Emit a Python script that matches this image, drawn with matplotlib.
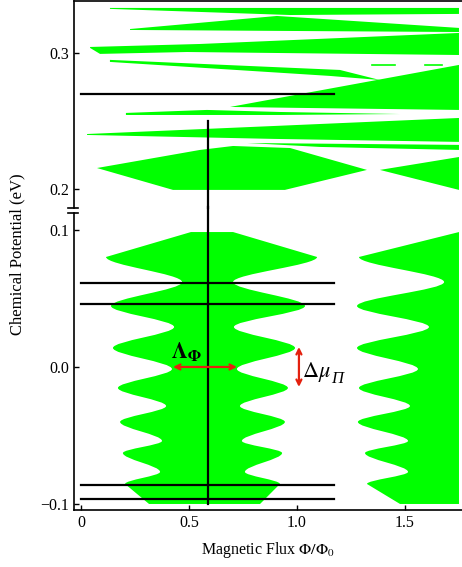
import matplotlib
matplotlib.use("Agg")
import matplotlib.pyplot as plt
from matplotlib.path import Path
from matplotlib.patches import PathPatch

plt.rcParams["font.family"] = ["Liberation Serif", "DejaVu Serif"]
plt.rcParams["mathtext.fontset"] = "stix"

GREEN = "#00ff00"

# ---- lower panel: oscillating bands (edge extrema) ----
band_y = [0.0985, 0.0803, 0.0620, 0.0445, 0.0292, 0.0139, -0.0015, -0.0153,
          -0.0285, -0.0401, -0.0540, -0.0628, -0.0766, -0.0854, -0.1000]
band1_left = [0.509, 0.116, 0.468, 0.139, 0.431, 0.148, 0.421, 0.171,
              0.394, 0.181, 0.375, 0.194, 0.366, 0.204, 0.315]
band1_right = [0.704, 1.093, 0.704, 1.037, 0.708, 0.991, 0.722, 0.958,
               0.736, 0.944, 0.745, 0.931, 0.759, 0.921, 0.829]
band2_left = [1.750, 1.287, 1.681, 1.278, 1.611, 1.278, 1.560, 1.287,
              1.523, 1.282, 1.514, 1.315, 1.514, 1.324, 1.477]
band2_right_x = 1.750

# ---- upper panel: slivers (polygon outlines) ----
s1_x = [0.134, 1.750, 1.750, 0.968, 0.134]
s1_y = [0.3331, 0.3331, 0.3287, 0.3279, 0.3324]
s2_x = [0.227, 0.907, 1.750, 1.750, 0.227]
s2_y = [0.3176, 0.3272, 0.3184, 0.3154, 0.3169]
s3_x = [0.042, 0.551, 1.750, 1.750, 0.491, 0.088, 0.042]
s3_y = [0.3044, 0.3066, 0.3147, 0.2985, 0.3007, 0.2993, 0.3037]
s4_x = [0.134, 1.199, 1.384, 1.153, 0.134]
s4_y = [0.2949, 0.2875, 0.2801, 0.2831, 0.2934]
s5_x = [0.690, 1.750, 1.750, 1.014]
s5_y = [0.2603, 0.2912, 0.2581, 0.2596]
s6_x = [0.208, 0.583, 0.921, 1.477, 0.921, 0.208]
s6_y = [0.2559, 0.2581, 0.2566, 0.2551, 0.2544, 0.2544]
s7_x = [0.028, 0.894, 1.750, 1.750, 0.894, 0.028]
s7_y = [0.2404, 0.2463, 0.2522, 0.2346, 0.2368, 0.2397]
s8_x = [0.769, 1.750, 1.750, 1.106]
s8_y = [0.2338, 0.2324, 0.2287, 0.2309]
lens1_x = [0.074, 0.551, 0.704, 0.968, 1.324, 0.944, 0.426]
lens1_y = [0.2154, 0.2287, 0.2316, 0.2301, 0.2140, 0.1993, 0.1993]
lens2_x = [1.384, 1.750, 1.750]
lens2_y = [0.2140, 0.2235, 0.1993]
dash_x = [(1.347, 1.454), (1.593, 1.671)]
dash_y = 0.2912

# ---- black guide lines and annotations ----
hline_top = [0.270]
hline_bot = [0.0615, 0.0458, -0.0864, -0.0961]
hline_x = (0.0, 1.17)
vline_x = 0.588
vline_y = (0.25, -0.1)
arrow_flux = ((0.426, 0.0), (0.722, 0.0))
arrow_mu = ((1.009, 0.0146), (1.009, -0.0146))


def edge_path(xs, ys):
    """Band edge: straight first/last segment, smooth waves in between."""
    verts, codes = [(xs[0], ys[0])], [Path.MOVETO]
    n = len(xs)
    for i in range(1, n):
        x0, y0, x1, y1 = xs[i - 1], ys[i - 1], xs[i], ys[i]
        if i == 1 or i == n - 1:
            verts.append((x1, y1)); codes.append(Path.LINETO)
        else:
            dy = y1 - y0
            verts += [(x0, y0 + dy / 3), (x1, y1 - dy / 3), (x1, y1)]
            codes += [Path.CURVE4] * 3
    return verts, codes


fig = plt.figure(figsize=(4.62, 5.67), dpi=100)
W, H = 462, 567
left = 74 / W
ax_top = fig.add_axes([left, 1 - 208 / H, 1 - left, 207 / H])
ax_bot = fig.add_axes([left, 1 - 510 / H, 1 - left, 297 / H])

xlim = (-0.0324, 1.764)
ax_top.set_xlim(*xlim)
ax_bot.set_xlim(*xlim)
ax_top.set_ylim(0.186, 0.3382)
ax_bot.set_ylim(-0.1044, 0.1124)

# upper panel fills
for xs, ys in [(s1_x, s1_y), (s2_x, s2_y), (s3_x, s3_y), (s4_x, s4_y),
               (s5_x, s5_y), (s6_x, s6_y), (s7_x, s7_y), (s8_x, s8_y),
               (lens1_x, lens1_y), (lens2_x, lens2_y)]:
    ax_top.fill(xs, ys, color=GREEN, lw=0)
for x0, x1 in dash_x:
    ax_top.plot([x0, x1], [dash_y, dash_y], color=GREEN, lw=1.2)

# lower panel band 1
lv, lc = edge_path(band1_left, band_y)
rv, rc = edge_path(band1_right[::-1], band_y[::-1])
rc[0] = Path.LINETO
verts = lv + rv + [lv[0]]
codes = lc + rc + [Path.CLOSEPOLY]
ax_bot.add_patch(PathPatch(Path(verts, codes), color=GREEN, lw=0))

# lower panel band 2 (runs off the right edge)
lv, lc = edge_path(band2_left, band_y)
verts = lv + [(band2_right_x, band_y[-1]), lv[0]]
codes = lc + [Path.LINETO, Path.CLOSEPOLY]
ax_bot.add_patch(PathPatch(Path(verts, codes), color=GREEN, lw=0))

# black lines
for y in hline_top:
    ax_top.plot(hline_x, [y, y], color="black", lw=1.6)
for y in hline_bot:
    ax_bot.plot(hline_x, [y, y], color="black", lw=1.6)
ax_top.plot([vline_x, vline_x], [vline_y[0], 0.186], color="black", lw=1.6,
            clip_on=False)
ax_bot.plot([vline_x, vline_x], [0.117, vline_y[1]], color="black", lw=1.6,
            clip_on=False)

# red arrows + labels
red = "#e4200e"
for (p0, p1) in [arrow_flux, arrow_mu]:
    ax_bot.annotate("", xy=p1, xytext=p0,
                    arrowprops=dict(arrowstyle="<->", color=red, lw=1.6,
                                    mutation_scale=9, shrinkA=0, shrinkB=0))
ax_bot.text(0.418, 0.0062, r"$\mathbf{\Lambda}_{\mathbf{\Phi}}$",
            fontsize=16, ha="left", va="baseline")
t_mu = ax_bot.text(1.021, -0.0070, r"$\Delta\mu$", fontsize=16,
                   ha="left", va="baseline")
# Greek capital as an italic subscript (mathtext keeps it upright)
ax_bot.annotate("\u03a0", xy=(1, 0), xycoords=t_mu, xytext=(0.3, 0.5),
                textcoords="offset points", fontsize=12, fontstyle="italic",
                ha="left", va="baseline")

# axes styling
for ax in (ax_top, ax_bot):
    ax.spines["right"].set_visible(False)
    ax.tick_params(direction="in", length=3.5, width=1, labelsize=11.5,
                   right=False, top=False)
    for s in ("left", "bottom", "top"):
        ax.spines[s].set_linewidth(1.2)
ax_top.spines["bottom"].set_visible(False)
ax_bot.spines["top"].set_visible(False)
ax_top.set_xticks([])
ax_top.set_yticks([0.2, 0.3], ["0.2", "0.3"])
ax_bot.set_yticks([-0.1, 0.0, 0.1], ["\u22120.1", "0.0", "0.1"])
ax_bot.set_xticks([0, 0.5, 1.0, 1.5], ["0", "0.5", "1.0", "1.5"])

# break marks on the left spine
for ax, yy in ((ax_top, 0.0), (ax_bot, 1.0)):
    ax.plot([-0.016, 0.011], [yy, yy], transform=ax.transAxes, color="black",
            lw=1.2, clip_on=False)

fig.text((74 + 462) / 2 / W, 1 - 550 / H, r"Magnetic Flux $\Phi/\Phi_0$",
         ha="center", va="center", fontsize=11.5)
fig.text(17 / W, 1 - 254 / H, "Chemical Potential (eV)", rotation=90,
         ha="center", va="center", fontsize=12)

fig.savefig("out.png", dpi=100)
